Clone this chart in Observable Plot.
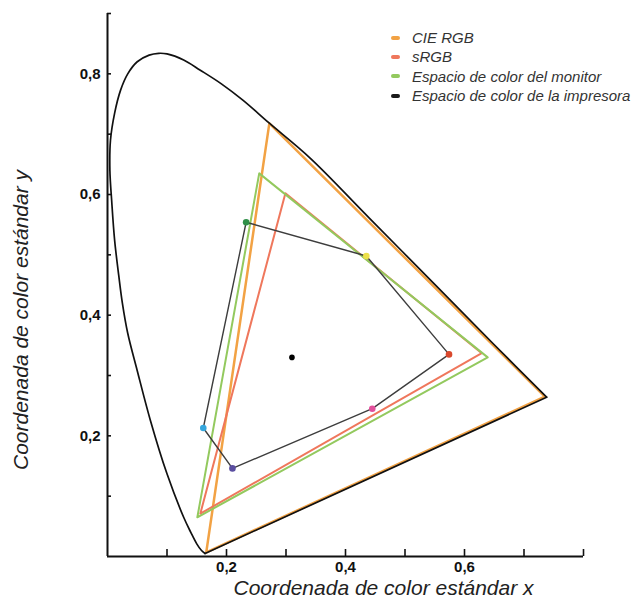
<!DOCTYPE html>
<html>
<head>
<meta charset="utf-8">
<script src="https://cdn.jsdelivr.net/npm/d3@7"></script>
<script src="https://cdn.jsdelivr.net/npm/@observablehq/plot@0.6"></script>
<style>
  html, body { margin: 0; padding: 0; background: #fff; }
  #wrap { position: relative; width: 632px; height: 599px; font-family: "Liberation Sans", Arial, sans-serif; }
  #legend { position: absolute; left: 391px; top: 28px; font-style: italic; font-size: 15px; color: #333; line-height: 19.3px; }
  #legend .row { display: flex; align-items: center; white-space: nowrap; }
  #legend .sw { width: 9px; height: 4px; border-radius: 2px; margin-right: 12px; }
</style>
</head>
<body>
<div id="wrap"><div id="legend"></div></div>
<script>
// Spectral locus (horseshoe)
const locus = [
  [0.164, 0.005], [0.158, 0.010], [0.150, 0.021], [0.140, 0.040], [0.128, 0.065],
  [0.100, 0.137], [0.072, 0.226], [0.050, 0.308], [0.034, 0.370], [0.025, 0.420],
  [0.019, 0.465], [0.012, 0.524], [0.007, 0.590], [0.004, 0.640], [0.005, 0.690],
  [0.012, 0.735], [0.022, 0.773], [0.034, 0.800], [0.050, 0.820], [0.070, 0.831],
  [0.086, 0.834], [0.100, 0.833], [0.128, 0.823], [0.156, 0.806], [0.192, 0.783],
  [0.228, 0.756], [0.271, 0.719], [0.341, 0.660], [0.440, 0.561], [0.550, 0.451],
  [0.650, 0.351], [0.738, 0.264]
];
// Line of purples (closes the horseshoe)
const purpleLine = [[0.738, 0.264], [0.164, 0.005]];

// Gamut triangles
const cieRGB  = [[0.735, 0.265], [0.272, 0.718], [0.166, 0.007]];
const sRGB    = [[0.629, 0.337], [0.299, 0.602], [0.156, 0.071]];
const monitor = [[0.639, 0.330], [0.255, 0.635], [0.151, 0.065]];
// Printer gamut (hexagon) and the colours of its corners
const printer = [[0.233, 0.554], [0.435, 0.498], [0.574, 0.335], [0.445, 0.245], [0.210, 0.146], [0.161, 0.213]];
const printerDotColors = ["#2f8f48", "#ece04a", "#d9482c", "#e2509c", "#5a4ea0", "#36a6dc"];
// White point
const whitePoint = [[0.310, 0.330]];

const seriesNames = ["CIE RGB", "sRGB", "Espacio de color del monitor", "Espacio de color de la impresora"];
const seriesColors = ["#f2a244", "#ef775c", "#93c95e", "#1a1a1a"];

const xTicks = [0.1, 0.2, 0.3, 0.4, 0.5, 0.6, 0.7, 0.8];
const xTickLabels = [0.2, 0.4, 0.6];
const yTicks = [0.1, 0.2, 0.3, 0.4, 0.5, 0.6, 0.7, 0.8, 0.9];
const yTickLabels = [0.2, 0.4, 0.6, 0.8];
const xTitle = "Coordenada de color estándar x";
const yTitle = "Coordenada de color estándar y";

const fmt = d => d.toFixed(1).replace(".", ",");

const chart = Plot.plot({
  width: 632,
  height: 599,
  marginLeft: 107,
  marginRight: 49,
  marginTop: 13,
  marginBottom: 43,
  style: { fontFamily: "'Liberation Sans', Arial, sans-serif", background: "#fff", color: "#111" },
  x: { domain: [0, 0.8] },
  y: { domain: [0, 0.9] },
  marks: [
    // CIE RGB (orange) underneath the locus
    Plot.line(cieRGB, { x: d => d[0], y: d => d[1], curve: "linear-closed", stroke: seriesColors[0], strokeWidth: 2.5 }),
    // spectral locus
    Plot.line(locus, { x: d => d[0], y: d => d[1], curve: "catmull-rom", stroke: "#111", strokeWidth: 1.7 }),
    Plot.line(purpleLine, { x: d => d[0], y: d => d[1], stroke: "#111", strokeWidth: 1.7 }),
    // sRGB
    Plot.line(sRGB, { x: d => d[0], y: d => d[1], curve: "linear-closed", stroke: seriesColors[1], strokeWidth: 2 }),
    // monitor
    Plot.line(monitor, { x: d => d[0], y: d => d[1], curve: "linear-closed", stroke: seriesColors[2], strokeWidth: 2 }),
    // printer
    Plot.line(printer, { x: d => d[0], y: d => d[1], curve: "linear-closed", stroke: "#3d3d3d", strokeWidth: 1.4 }),
    Plot.dot(printer, { x: d => d[0], y: d => d[1], r: 3.3, fill: (d, i) => printerDotColors[i], stroke: "none" }),
    // white point
    Plot.dot(whitePoint, { x: d => d[0], y: d => d[1], r: 2.8, fill: "#000" }),
    // axes: inward ticks, then labels
    Plot.axisX(xTicks, { tickSize: -7, fill: "none", stroke: "#111", strokeWidth: 1.6, label: null }),
    Plot.axisX(xTickLabels, { tickSize: 0, tickPadding: 5, tickFormat: fmt, fontSize: 15, fontWeight: "bold", fill: "#111", label: null }),
    Plot.axisY(yTicks, { tickSize: -4, fill: "none", stroke: "#111", strokeWidth: 1.6, label: null }),
    Plot.axisY(yTickLabels, { tickSize: 0, tickPadding: 7, tickFormat: fmt, fontSize: 15, fontWeight: "bold", fill: "#111", label: null }),
    Plot.ruleX([0], { stroke: "#111", strokeWidth: 2 }),
    Plot.ruleY([0], { stroke: "#111", strokeWidth: 2 }),
    // axis titles
    Plot.text([xTitle], { text: d => d, frameAnchor: "bottom", textAnchor: "middle", dx: 38, dy: 38, fontSize: 21, fontStyle: "italic", fill: "#222" }),
    Plot.text([yTitle], { text: d => d, frameAnchor: "left", textAnchor: "middle", rotate: -90, dx: -86, dy: 35, fontSize: 21, fontStyle: "italic", fill: "#222" })
  ]
});

const wrap = document.getElementById("wrap");
wrap.insertBefore(chart, wrap.firstChild);

const legend = document.getElementById("legend");
seriesNames.forEach((name, i) => {
  const row = document.createElement("div");
  row.className = "row";
  const sw = document.createElement("span");
  sw.className = "sw";
  sw.style.background = seriesColors[i];
  const t = document.createElement("span");
  t.textContent = name;
  row.appendChild(sw);
  row.appendChild(t);
  legend.appendChild(row);
});
</script>
</body>
</html>
